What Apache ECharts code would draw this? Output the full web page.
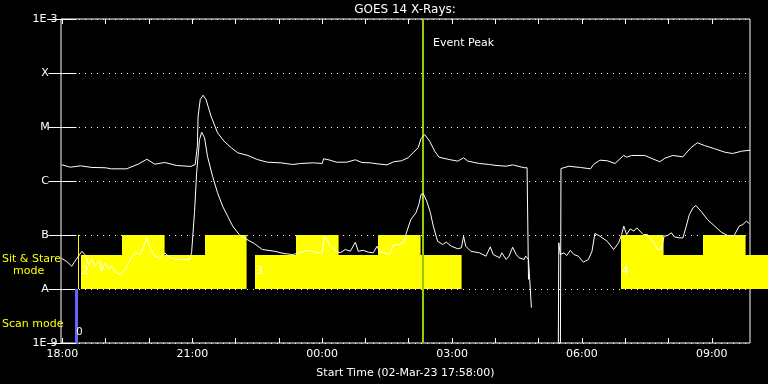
<!DOCTYPE html>
<html>
<head>
<meta charset="utf-8">
<script src="https://cdn.jsdelivr.net/npm/echarts@6/dist/echarts.min.js"></script>
<style>html,body{margin:0;padding:0;background:#000}#c{width:768px;height:384px}</style>
</head>
<body>
<div id="c"></div>
<script>
// ---- data (time = minutes after 02-Mar-23 18:00, flux in W/m^2) ----
const longTime = [-1,11,25,41,59,68,89,105,117,128,142,158,178,184,187,188,191,195,199,206,215,224,234,243,257,270,284,303,319,330,348,360,362,371,380,394,406,415,427,436,450,459,470,479,486,493,497,502,509,516,522,536,548,556,562,578,592,601,615,624,640,644,646,647,690,691,692,702,709,718,732,736,745,755,766,778,782,789,807,818,828,835,846,860,871,880,890,904,918,929,941,953];
const longFlux = [2.0e-6,1.8e-6,1.91e-6,1.78e-6,1.76e-6,1.68e-6,1.68e-6,2.05e-6,2.53e-6,2.05e-6,2.2e-6,1.94e-6,1.86e-6,2.02e-6,4.4e-6,1.58e-5,3.23e-5,3.88e-5,3.23e-5,1.58e-5,7.8e-6,5.46e-6,4.12e-6,3.33e-6,2.97e-6,2.5e-6,2.23e-6,2.17e-6,2.02e-6,2.11e-6,2.17e-6,2.11e-6,2.58e-6,2.43e-6,2.23e-6,2.23e-6,2.47e-6,2.2e-6,2.17e-6,2.08e-6,1.99e-6,2.27e-6,2.37e-6,2.69e-6,3.33e-6,4.12e-6,6.04e-6,7.26e-6,5.46e-6,3.56e-6,2.76e-6,2.5e-6,2.33e-6,2.69e-6,2.33e-6,2.11e-6,2.02e-6,1.94e-6,1.88e-6,1.99e-6,1.76e-6,1.76e-6,1.5e-8,null,1e-10,1.7e-6,1.76e-6,1.88e-6,1.83e-6,1.78e-6,1.68e-6,2.02e-6,2.43e-6,2.37e-6,2.11e-6,3.0e-6,2.76e-6,2.97e-6,2.97e-6,2.58e-6,2.27e-6,2.64e-6,2.97e-6,2.8e-6,4.12e-6,5.1e-6,4.54e-6,3.95e-6,3.42e-6,3.23e-6,3.56e-6,3.72e-6];

const shortTime = [-1,6,13,17,27,31,36,41,45,52,54,59,64,68,75,80,87,94,101,108,112,117,121,128,135,142,149,158,176,179,183,186,190,193,197,201,208,215,222,229,236,245,254,266,277,294,307,319,325,334,343,353,360,363,367,370,373,380,385,392,399,406,410,417,424,431,436,440,447,454,458,466,473,477,483,490,494,497,500,505,510,514,520,527,532,539,548,553,556,559,566,578,587,593,597,606,609,615,619,624,629,633,640,642,644,646,650,651,687,688,690,695,699,704,709,715,722,729,734,738,745,755,764,771,775,778,782,787,792,796,805,811,818,825,830,834,839,844,848,855,860,864,869,874,878,885,894,904,913,922,931,938,943,948,952];
const shortFlux = [3.67e-8,3.23e-8,2.64e-8,3.23e-8,5.0e-8,4.35e-8,2.84e-8,3.52e-8,2.64e-8,3.27e-8,2.14e-8,3.06e-8,2.3e-8,2.64e-8,1.99e-8,1.86e-8,2.3e-8,3.52e-8,4.8e-8,4.35e-8,5.8e-8,8.9e-8,5.8e-8,4.05e-8,3.78e-8,4.68e-8,3.78e-8,3.52e-8,3.52e-8,4.68e-8,2.58e-7,1.42e-6,5.87e-6,8.0e-6,6.3e-6,2.88e-6,1.23e-6,6.04e-7,3.42e-7,2.23e-7,1.46e-7,1.02e-7,8.5e-8,6.95e-8,5.39e-8,5.0e-8,4.54e-8,4.35e-8,4.54e-8,5.0e-8,5.2e-8,4.68e-8,4.68e-8,9.2e-8,8.25e-8,6.67e-8,5.8e-8,5.0e-8,4.68e-8,5.39e-8,5.0e-8,7.36e-8,5.0e-8,5.2e-8,4.8e-8,4.68e-8,6.2e-8,4.8e-8,4.68e-8,4.35e-8,6.46e-8,6.67e-8,7.17e-8,1.13e-7,1.94e-7,2.58e-7,3.67e-7,5.62e-7,5.87e-7,4.22e-7,2.58e-7,1.46e-7,7.68e-8,6.67e-8,7.36e-8,6.2e-8,5.55e-8,5.8e-8,9.5e-8,6.2e-8,5.0e-8,4.68e-8,4.05e-8,6.04e-8,4.35e-8,3.78e-8,4.68e-8,3.52e-8,4.05e-8,5.94e-8,4.35e-8,3.78e-8,3.52e-8,4.05e-8,4.35e-8,3.52e-8,4.5e-9,null,1e-10,7.17e-8,4.35e-8,4.68e-8,4.17e-8,5.2e-8,4.35e-8,4.05e-8,3.14e-8,3.52e-8,5.0e-8,1.07e-7,9.5e-8,7.68e-8,5.39e-8,7.17e-8,1.02e-7,1.46e-7,1.02e-7,1.3e-7,1.18e-7,1.36e-7,1.02e-7,1.02e-7,7.68e-8,5.39e-8,5.39e-8,9.5e-8,9.8e-8,1.1e-7,9.25e-8,8.85e-8,8.85e-8,1.36e-7,2.4e-7,3.19e-7,3.52e-7,2.76e-7,1.94e-7,1.46e-7,1.13e-7,9.8e-8,9.8e-8,1.46e-7,1.56e-7,1.8e-7,1.63e-7];

// sit & stare mode blocks
const ssStart = [26,83,141,197,267,324,382,438,496,774,832,888,946];
const ssEnd   = [83,141,197,255,324,382,438,496,553,832,888,946,985];
const ssTop   = [4.2e-8,1e-7,4.2e-8,1e-7,4.2e-8,1e-7,4.2e-8,1e-7,4.2e-8,1e-7,4.2e-8,1e-7,4.2e-8];
const ssBase = 1e-8;
const scanTime = 20, scanFrom = 1e-9, scanTo = 1e-8;
const stareLineTime = 21.5, stareFrom = 1e-8, stareTo = 1e-7;
const modeNumTime = [19, 27, 269, 776];
const modeNumFlux = [1.6e-9, 2.1e-8, 2.1e-8, 2.1e-8];
const modeNumLabel = ['0', '2', '3', '4'];

const eventPeakTime = 499.5;
const xMin = -2, xMax = 953;
const hourTicks = [0,60,120,180,240,300,360,420,480,540,600,660,720,780,840,900];
const xLabelValues = [0,180,360,540,720,900];
const xLabelText = ['18:00','21:00','00:00','03:00','06:00','09:00'];
const yTickLabels = {'-9':'1E-9','-8':'A','-7':'B','-6':'C','-5':'M','-4':'X','-3':'1E-3'};

const FONT = 'DejaVu Sans';
const chart = echarts.init(document.getElementById('c'), null, {renderer: 'canvas'});

const tickStyle = {color: '#fff', width: 1};
const option = {
  backgroundColor: '#000',
  animation: false,
  grid: {left: 61, right: 18, top: 19, bottom: 41, show: true, borderColor: '#fff', borderWidth: 1, backgroundColor: 'transparent'},
  xAxis: [{
    type: 'value', min: xMin, max: xMax, position: 'bottom',
    axisLine: {show: false},
    axisTick: {show: true, inside: true, length: 5, lineStyle: tickStyle, customValues: hourTicks},
    axisLabel: {show: true, color: '#fff', fontFamily: FONT, fontSize: 11, margin: 6, customValues: xLabelValues,
      formatter: v => xLabelText[xLabelValues.indexOf(Math.round(v))] || ''},
    splitLine: {show: false},
    name: 'Start Time (02-Mar-23 17:58:00)', nameLocation: 'middle', nameGap: 25,
    nameTextStyle: {color: '#fff', fontFamily: FONT, fontSize: 11}
  }, {
    type: 'value', min: xMin, max: xMax, position: 'top',
    axisLine: {show: false},
    axisTick: {show: true, inside: true, length: 5, lineStyle: tickStyle, customValues: hourTicks},
    axisLabel: {show: false}, splitLine: {show: false}
  }],
  yAxis: [{
    type: 'log', logBase: 10, min: 1e-9, max: 1e-3, position: 'left',
    axisLine: {show: false},
    axisTick: {show: true, inside: true, length: 14, lineStyle: tickStyle},
    axisLabel: {show: true, color: '#fff', fontFamily: FONT, fontSize: 11, align: 'center', margin: 16,
      formatter: v => yTickLabels[String(Math.round(Math.log10(v)))] || ''},
    splitLine: {show: true, lineStyle: {color: '#fff', width: 1, type: [1, 5]}},
    minorTick: {show: false}
  }, {
    type: 'log', logBase: 10, min: 1e-9, max: 1e-3, position: 'right',
    axisLine: {show: false},
    axisTick: {show: true, inside: true, length: 14, lineStyle: tickStyle},
    axisLabel: {show: false}, splitLine: {show: false}
  }],
  graphic: [
    {type: 'text', x: 405, y: 10, z: 100, style: {text: 'GOES 14 X-Rays:', fill: '#fff', font: '12px ' + FONT, align: 'center', verticalAlign: 'middle'}},
    {type: 'text', x: 433, y: 43, z: 100, style: {text: 'Event Peak', fill: '#fff', font: '11px ' + FONT, align: 'left', verticalAlign: 'middle'}},
    {type: 'text', x: 2, y: 259, z: 100, style: {text: 'Sit & Stare', fill: '#ffff00', font: '11px ' + FONT, align: 'left', verticalAlign: 'middle'}},
    {type: 'text', x: 13, y: 271, z: 100, style: {text: 'mode', fill: '#ffff00', font: '11px ' + FONT, align: 'left', verticalAlign: 'middle'}},
    {type: 'text', x: 2, y: 324, z: 100, style: {text: 'Scan mode', fill: '#ffff00', font: '11px ' + FONT, align: 'left', verticalAlign: 'middle'}}
  ],
  series: [
    {
      type: 'custom', name: 'sitstare', xAxisIndex: 0, yAxisIndex: 0, z: 1, clip: false, silent: true,
      data: ssStart.map((s, i) => [s, ssEnd[i], ssTop[i]]),
      encode: {x: [0, 1], y: 2},
      renderItem: (params, api) => {
        const p0 = api.coord([api.value(0), api.value(2)]);
        const p1 = api.coord([api.value(1), ssBase]);
        const x0 = Math.round(p0[0]), x1 = Math.round(p1[0]);
        const y0 = Math.round(p0[1]), y1 = Math.round(p1[1]);
        return {type: 'rect', shape: {x: x0, y: y0, width: x1 - x0 + 0.6, height: y1 - y0}, style: {fill: '#ffff00', stroke: null}};
      }
    },
    {
      type: 'custom', name: 'scan', xAxisIndex: 0, yAxisIndex: 0, z: 2, clip: false, silent: true,
      data: [[scanTime, stareLineTime]],
      encode: {x: [0, 1]},
      renderItem: (params, api) => {
        const a = api.coord([api.value(0), scanFrom]);
        const b = api.coord([api.value(0), scanTo]);
        const c = api.coord([api.value(1), stareFrom]);
        const d = api.coord([api.value(1), stareTo]);
        return {type: 'group', children: [
          {type: 'rect', shape: {x: Math.round(a[0] - 1.5), y: Math.round(b[1]), width: 3, height: Math.round(a[1]) - Math.round(b[1])}, style: {fill: '#6464ff'}},
          {type: 'line', shape: {x1: Math.round(c[0]) + 0.5, y1: Math.round(c[1]), x2: Math.round(d[0]) + 0.5, y2: Math.round(d[1])}, style: {stroke: '#ffff00', lineWidth: 1}}
        ]};
      }
    },
    {
      type: 'custom', name: 'modeNum', xAxisIndex: 0, yAxisIndex: 0, z: 3, clip: false, silent: true,
      data: modeNumTime.map((t, i) => [t, modeNumFlux[i], i]),
      encode: {x: 0, y: 1},
      renderItem: (params, api) => {
        const p = api.coord([api.value(0), api.value(1)]);
        return {type: 'text', x: p[0], y: p[1], style: {text: modeNumLabel[api.value(2)], fill: '#fff', font: '10px ' + FONT, align: 'left', verticalAlign: 'middle'}};
      }
    },
    {
      type: 'line', name: 'long', xAxisIndex: 0, yAxisIndex: 0, z: 5,
      data: longTime.map((t, i) => [t, longFlux[i]]),
      showSymbol: false, symbol: 'none', connectNulls: false, clip: true,
      lineStyle: {color: '#fff', width: 1},
      markLine: {
        symbol: 'none', silent: true, label: {show: false}, animation: false,
        lineStyle: {color: '#99cc00', width: 2, type: 'solid'},
        data: [{xAxis: eventPeakTime}]
      }
    },
    {
      type: 'line', name: 'short', xAxisIndex: 0, yAxisIndex: 0, z: 5,
      data: shortTime.map((t, i) => [t, shortFlux[i]]),
      showSymbol: false, symbol: 'none', connectNulls: false, clip: true,
      lineStyle: {color: '#fff', width: 1}
    }
  ]
};
chart.setOption(option);
</script>
</body>
</html>
